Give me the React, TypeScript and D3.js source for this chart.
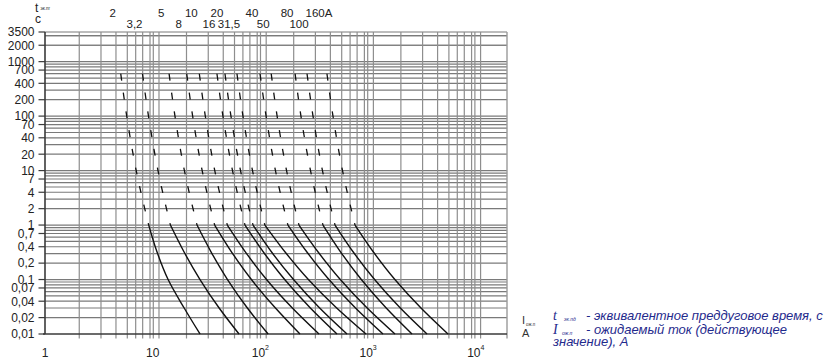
import React from 'react';
import * as d3 from 'd3';

// time points (s) at which each curve's prospective current was read
const TIMES = [600, 100, 10, 1, 0.3, 0.1, 0.03, 0.01];
const RATINGS = ['2', '3,2', '5', '8', '10', '16', '20', '31,5', '40', '50', '80', '100', '160A'];
// currents (A) at TIMES
const CURVE_2 = [5.05, 5.74, 7.03, 9.18, 11.1, 13.9, 19.6, 27.5];
const CURVE_3_2 = [8.04, 9.14, 11.2, 14.6, 19.9, 27.5, 41.4, 63.3];
const CURVE_5 = [14.2, 16.1, 19.7, 25.8, 35.5, 49.5, 75.7, 118];
const CURVE_8 = [20.7, 23.5, 28.8, 37.6, 55.2, 82.5, 138, 233];
const CURVE_10 = [27.1, 30.8, 37.7, 49.3, 74.4, 114, 198, 350];
const CURVE_16 = [39.5, 44.9, 55.1, 71.9, 109, 168, 291, 514];
const CURVE_20 = [46.9, 53.3, 65.4, 85.4, 130, 203, 355, 637];
const CURVE_31_5 = [60.6, 68.9, 84.5, 110, 174, 279, 511, 956];
const CURVE_40 = [99.2, 113, 138, 180, 277, 433, 764, 1375];
const CURVE_50 = [126, 143, 175, 228, 352, 552, 981, 1777];
const CURVE_80 = [210, 238, 292, 381, 569, 865, 1473, 2556];
const CURVE_100 = [271, 308, 377, 493, 745, 1149, 1991, 3524];
const CURVE_160 = [415, 472, 579, 756, 1147, 1773, 3098, 5520];
const CURVES = [CURVE_2, CURVE_3_2, CURVE_5, CURVE_8, CURVE_10, CURVE_16, CURVE_20,
  CURVE_31_5, CURVE_40, CURVE_50, CURVE_80, CURVE_100, CURVE_160];

// vertical grid lines (A) as drawn in the picture
const X_GRID = [
  2.08, 3.31, 4.56, 5.81, 6.95, 8.07, 9.44, 10.13, 11.44,
  20.6, 32.8, 45.2, 57.5, 68.8, 79.9, 93.4, 100.2, 113.2,
  203.8, 324.1, 446.5, 568.8, 680.6, 790.7, 924, 991.5, 1120,
  2016, 3207, 4419, 5627, 6732, 7820, 9141, 9808, 11080,
];
const X_MAX = 19490;
const X_LABELS = [1, 10, 100, 1000, 10000];

const Y_MIN = 0.01;
const Y_MAX = 3500;
const Y_LABELS = [3500, 2000, 1000, 700, 400, 200, 100, 70, 40, 20, 10, 7, 4, 2, 1,
  0.7, 0.4, 0.2, 0.1, 0.07, 0.04, 0.02, 0.01];
const Y_MANTISSAS = [1, 2, 3, 4, 5, 6, 7, 8, 9];
const Y_DECADES = [0.01, 0.1, 1, 10, 100, 1000];
const Y_EXTRA = [2000, 3000, 3500];

const FONT = "'Liberation Sans', Arial, sans-serif";
const SERIF = "'Liberation Serif', 'Times New Roman', serif";

export default function App() {
  const W = 839, H = 363;
  const left = 45, right = 507, top = 32, bottom = 334;
  const x = d3.scaleLog().domain([1, X_MAX]).range([left, right]);
  const y = d3.scaleLog().domain([Y_MIN, Y_MAX]).range([bottom, top]);

  const yGrid: number[] = [];
  Y_DECADES.forEach(dec => Y_MANTISSAS.forEach(m => yGrid.push(+(dec * m).toPrecision(3))));
  Y_EXTRA.forEach(v => yGrid.push(v));

  const line = d3.line<[number, number]>()
    .x(d => x(d[0]))
    .y(d => y(d[1]))
    .curve(d3.curveMonotoneY);

  const fmt = (v: number) => String(v).replace('.', ',');
  const supers: Record<number, string> = { 100: '2', 1000: '3', 10000: '4' };

  return (
    <svg width={W} height={H} style={{ position: 'absolute', left: 0, top: 0, background: '#fff' }}
      fontFamily={FONT}>
      {/* horizontal grid */}
      {yGrid.filter(v => v > Y_MIN && v <= Y_MAX).map((v, i) => (
        <line key={'hg' + i} x1={left} x2={right} y1={y(v)} y2={y(v)} stroke="#7a7a7a" strokeWidth={1.2} />
      ))}
      {/* vertical grid */}
      {X_GRID.map((v, i) => (
        <g key={'vg' + i}>
          <line x1={x(v)} x2={x(v)} y1={top} y2={bottom} stroke="#8e8e8e" strokeWidth={1.2} />
          <line x1={x(v)} x2={x(v)} y1={bottom} y2={bottom + 4.5} stroke="#8e8e8e" strokeWidth={1.2} />
        </g>
      ))}
      <line x1={x(X_MAX)} x2={x(X_MAX)} y1={top} y2={bottom + 4.5} stroke="#9a9a9a" strokeWidth={1.4} />
      {/* axes */}
      <line x1={left} x2={left} y1={top} y2={bottom} stroke="#3a3a3a" strokeWidth={1.6} />
      <line x1={left - 2} x2={right} y1={bottom} y2={bottom} stroke="#3a3a3a" strokeWidth={1.6} />
      {Y_LABELS.map((v, i) => (
        <g key={'yl' + i}>
          <line x1={left - 6.5} x2={left} y1={y(v)} y2={y(v)} stroke="#3a3a3a" strokeWidth={1.2} />
          <text x={left - 10.5} y={y(v)} dy="0.36em" textAnchor="end" fontSize={12} fill="#222">{fmt(v)}</text>
        </g>
      ))}
      {X_LABELS.map((v, i) => (
        <text key={'xl' + i} x={x(v)} y={357} textAnchor="middle" fontSize={12} fill="#222">
          {supers[v] ? '10' : String(v)}
          {supers[v] ? <tspan dy={-7} fontSize={7}>{supers[v]}</tspan> : null}
        </text>
      ))}
      {/* y-axis title */}
      <text x={35} y={12} fontSize={12} fill="#222">t</text>
      <text x={40.5} y={9.5} fontSize={4.5} fill="#222">эк.пг</text>
      <text x={35} y={23} fontSize={12} fill="#222">с</text>

      {/* curves */}
      {CURVES.map((c, ci) => {
        const pts: [number, number][] = TIMES.map((t, i) => [c[i], t]);
        const dashed = pts.slice(0, 4);
        const solid = pts.slice(3);
        return (
          <g key={'c' + ci}>
            <path d={line(dashed) || ''} fill="none" stroke="#111" strokeWidth={1.3} strokeDasharray="7 12" />
            <path d={line(solid) || ''} fill="none" stroke="#111" strokeWidth={1.4} />
          </g>
        );
      })}
      {/* rating labels */}
      {CURVES.map((c, ci) => (
        <text key={'rl' + ci} x={x(c[0]) - 8} y={ci % 2 === 0 ? 16.5 : 28} textAnchor="middle"
          fontSize={11.5} fill="#222">{RATINGS[ci]}</text>
      ))}

      {/* current axis title */}
      <text x={522} y={324} fontSize={11} fill="#333">I</text>
      <text x={526} y={326} fontSize={4.5} fill="#333">ож.п</text>
      <text x={522} y={337} fontSize={11} fill="#333">А</text>

      {/* legend */}
      <g fill="#1f2a8c" fontStyle="italic">
        <text x={553} y={320} fontSize={14} fontFamily={SERIF}>t</text>
        <text x={564} y={321} fontSize={5} fontFamily={FONT}>эк.пд</text>
        <text x={586} y={320} fontSize={13} fontFamily={FONT}>- эквивалентное преддуговое время, с</text>
        <text x={553} y={333.5} fontSize={14} fontFamily={SERIF}>I</text>
        <text x={562} y={335} fontSize={5} fontFamily={FONT}>ож.п</text>
        <text x={586} y={333.5} fontSize={13} fontFamily={FONT}>- ожидаемый ток (действующее</text>
        <text x={553} y={346} fontSize={13} fontFamily={FONT}>значение),  А</text>
      </g>
    </svg>
  );
}
